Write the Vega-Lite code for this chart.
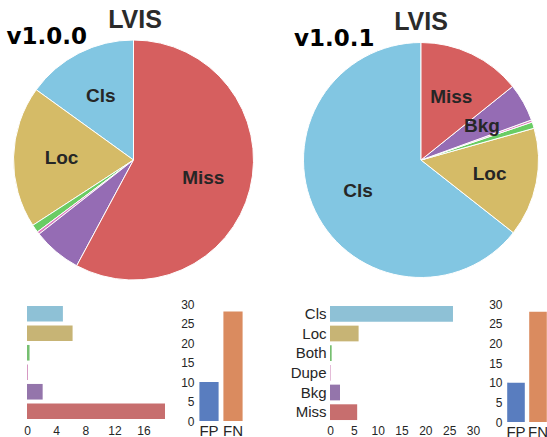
{
  "$schema": "https://vega.github.io/schema/vega-lite/v6.json",
  "background": "white",
  "padding": {"left": 0, "top": 8, "right": 0, "bottom": 0},
  "config": {
    "view": {"stroke": null},
    "axis": {"labelFont": "Liberation Sans", "labelColor": "#262626", "grid": false, "domain": false, "ticks": false, "title": null, "labelFlush": false},
    "title": {"font": "Liberation Sans"}
  },
  "datasets": {
    "v100": [
      {"cat": "Cls", "value": 4.93, "pieOrder": 6, "pieLabel": "Cls"},
      {"cat": "Loc", "value": 6.26, "pieOrder": 5, "pieLabel": "Loc"},
      {"cat": "Both", "value": 0.35, "pieOrder": 4, "pieLabel": ""},
      {"cat": "Dupe", "value": 0.12, "pieOrder": 3, "pieLabel": ""},
      {"cat": "Bkg", "value": 2.15, "pieOrder": 2, "pieLabel": ""},
      {"cat": "Miss", "value": 18.95, "pieOrder": 1, "pieLabel": "Miss"}
    ],
    "v101": [
      {"cat": "Cls", "value": 25.8, "pieOrder": 6, "pieLabel": "Cls"},
      {"cat": "Loc", "value": 6.0, "pieOrder": 5, "pieLabel": "Loc"},
      {"cat": "Both", "value": 0.35, "pieOrder": 4, "pieLabel": ""},
      {"cat": "Dupe", "value": 0.12, "pieOrder": 3, "pieLabel": ""},
      {"cat": "Bkg", "value": 2.1, "pieOrder": 2, "pieLabel": "Bkg"},
      {"cat": "Miss", "value": 5.7, "pieOrder": 1, "pieLabel": "Miss"}
    ],
    "fpfn100": [
      {"type": "FP", "value": 10.0},
      {"type": "FN", "value": 28.1}
    ],
    "fpfn101": [
      {"type": "FP", "value": 10.0},
      {"type": "FN", "value": 28.05}
    ]
  },
  "spacing": 16,
  "resolve": {"scale": {"color": "independent", "theta": "independent"}},
  "vconcat": [
    {
      "spacing": 37,
      "resolve": {"scale": {"color": "independent", "theta": "independent"}},
      "hconcat": [
        {
          "title": {"text": "LVIS", "dx": 4, "fontSize": 25, "fontWeight": "bold", "color": "#2b2b2b", "anchor": "middle", "offset": -7},
          "resolve": {"scale": {"color": "independent", "theta": "independent"}},
          "vconcat": [
            {
              "width": 213,
              "height": 240,
              "title": {"text": "v1.0.0", "frame": "group", "anchor": "start", "dx": -20.5, "font": "DejaVu Sans", "fontSize": 23, "fontWeight": "bold", "color": "#000000", "offset": -11},
              "data": {"name": "v100"},
              "layer": [
                {
                  "mark": {"type": "arc", "stroke": "white", "strokeWidth": 1, "radius": 120},
                  "encoding": {
                    "theta": {"field": "value", "type": "quantitative", "stack": true},
                    "order": {"field": "pieOrder", "type": "quantitative"},
                    "color": {"field": "cat", "type": "nominal", "legend": null,
                      "scale": {"domain": ["Cls", "Loc", "Both", "Dupe", "Bkg", "Miss"], "range": ["#82c6e2", "#d5bb67", "#6acc64", "#dc7ec0", "#956cb4", "#d65f5f"]}}
                  }
                },
                {
                  "mark": {"type": "text", "radius": 72, "font": "Liberation Sans", "fontWeight": "bold", "fontSize": 19, "fill": "#262626"},
                  "encoding": {
                    "theta": {"field": "value", "type": "quantitative", "stack": true},
                    "order": {"field": "pieOrder", "type": "quantitative"},
                    "detail": {"field": "cat", "type": "nominal"},
                    "text": {"field": "pieLabel", "type": "nominal"}
                  }
                }
              ]
            }
          ]
        },
        {
          "title": {"text": "LVIS", "fontSize": 25, "fontWeight": "bold", "color": "#2b2b2b", "anchor": "middle", "offset": -7},
          "resolve": {"scale": {"color": "independent", "theta": "independent"}},
          "vconcat": [
            {
              "width": 256,
              "height": 240,
              "title": {"text": "v1.0.1", "frame": "group", "anchor": "start", "dx": 1, "font": "DejaVu Sans", "fontSize": 23, "fontWeight": "bold", "color": "#000000", "offset": -11},
              "data": {"name": "v101"},
              "layer": [
                {
                  "mark": {"type": "arc", "stroke": "white", "strokeWidth": 1, "radius": 117.5},
                  "encoding": {
                    "theta": {"field": "value", "type": "quantitative", "stack": true},
                    "order": {"field": "pieOrder", "type": "quantitative"},
                    "color": {"field": "cat", "type": "nominal", "legend": null,
                      "scale": {"domain": ["Cls", "Loc", "Both", "Dupe", "Bkg", "Miss"], "range": ["#82c6e2", "#d5bb67", "#6acc64", "#dc7ec0", "#956cb4", "#d65f5f"]}}
                  }
                },
                {
                  "mark": {"type": "text", "radius": 70, "font": "Liberation Sans", "fontWeight": "bold", "fontSize": 19, "fill": "#262626"},
                  "encoding": {
                    "theta": {"field": "value", "type": "quantitative", "stack": true},
                    "order": {"field": "pieOrder", "type": "quantitative"},
                    "detail": {"field": "cat", "type": "nominal"},
                    "text": {"field": "pieLabel", "type": "nominal"}
                  }
                }
              ]
            }
          ]
        }
      ]
    },
    {
      "spacing": 45,
      "resolve": {"scale": {"color": "independent"}},
      "hconcat": [
        {
          "spacing": 15,
          "resolve": {"scale": {"color": "independent"}},
          "hconcat": [
            {
              "width": 138,
              "height": 117,
              "data": {"name": "v100"},
              "mark": "bar",
              "encoding": {
                "y": {"field": "cat", "type": "nominal", "sort": ["Cls", "Loc", "Both", "Dupe", "Bkg", "Miss"],
                  "scale": {"paddingInner": 0.2, "paddingOuter": 0.1},
                  "axis": {"labels": false, "domain": true, "domainColor": "white", "offset": 27}},
                "x": {"field": "value", "type": "quantitative", "scale": {"domain": [0, 18.95], "nice": false},
                  "axis": {"values": [0, 4, 8, 12, 16], "labelPadding": 4, "labelFontSize": 12}},
                "color": {"field": "cat", "type": "nominal", "legend": null,
                  "scale": {"domain": ["Cls", "Loc", "Both", "Dupe", "Bkg", "Miss"], "range": ["#8ec1d6", "#c7b475", "#76bf70", "#d08abb", "#9475ab", "#c76e6e"]}}
              }
            },
            {
              "width": 48,
              "height": 117,
              "data": {"name": "fpfn100"},
              "mark": "bar",
              "encoding": {
                "x": {"field": "type", "type": "nominal", "sort": ["FP", "FN"], "scale": {"paddingInner": 0.2, "paddingOuter": 0.1},
                  "axis": {"labelAngle": 0, "labelFontSize": 15, "labelPadding": 2}},
                "y": {"field": "value", "type": "quantitative", "scale": {"domain": [0, 30], "nice": false},
                  "axis": {"values": [0, 5, 10, 15, 20, 25, 30], "labelPadding": 3, "labelFontSize": 12}},
                "color": {"field": "type", "type": "nominal", "legend": null,
                  "scale": {"domain": ["FP", "FN"], "range": ["#597dbf", "#da8b5f"]}}
              }
            }
          ]
        },
        {
          "spacing": 8,
          "resolve": {"scale": {"color": "independent"}},
          "hconcat": [
            {
              "width": 143,
              "height": 118,
              "data": {"name": "v101"},
              "mark": "bar",
              "encoding": {
                "y": {"field": "cat", "type": "nominal", "sort": ["Cls", "Loc", "Both", "Dupe", "Bkg", "Miss"],
                  "scale": {"paddingInner": 0.2, "paddingOuter": 0.1},
                  "axis": {"labelFontSize": 15, "labelPadding": 4}},
                "x": {"field": "value", "type": "quantitative", "scale": {"domain": [0, 30], "nice": false},
                  "axis": {"values": [0, 5, 10, 15, 20, 25, 30], "labelPadding": 3, "labelFontSize": 12}},
                "color": {"field": "cat", "type": "nominal", "legend": null,
                  "scale": {"domain": ["Cls", "Loc", "Both", "Dupe", "Bkg", "Miss"], "range": ["#8ec1d6", "#c7b475", "#76bf70", "#d08abb", "#9475ab", "#c76e6e"]}}
              }
            },
            {
              "width": 44,
              "height": 118,
              "data": {"name": "fpfn101"},
              "mark": "bar",
              "encoding": {
                "x": {"field": "type", "type": "nominal", "sort": ["FP", "FN"], "scale": {"paddingInner": 0.2, "paddingOuter": 0.1},
                  "axis": {"labelAngle": 0, "labelFontSize": 15, "labelPadding": 2}},
                "y": {"field": "value", "type": "quantitative", "scale": {"domain": [0, 30], "nice": false},
                  "axis": {"values": [0, 5, 10, 15, 20, 25, 30], "labelPadding": 3, "labelFontSize": 12}},
                "color": {"field": "type", "type": "nominal", "legend": null,
                  "scale": {"domain": ["FP", "FN"], "range": ["#597dbf", "#da8b5f"]}}
              }
            }
          ]
        }
      ]
    }
  ]
}
